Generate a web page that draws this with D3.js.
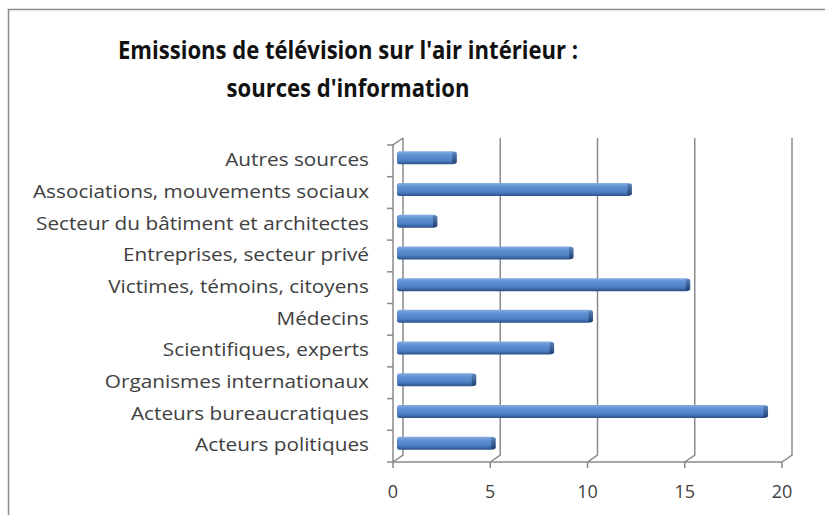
<!DOCTYPE html>
<html>
<head>
<meta charset="utf-8">
<script src="https://cdn.jsdelivr.net/npm/d3@7"></script>
<style>
  body { margin: 0; background: #fff; }
  svg { display: block; }
  text { font-family: "Open Sans", "Noto Sans", sans-serif; }
</style>
</head>
<body>
<svg id="chart" width="825" height="515"></svg>
<script>
// data, top to bottom as drawn
const categories = [
  "Autres sources",
  "Associations, mouvements sociaux",
  "Secteur du bâtiment et architectes",
  "Entreprises, secteur privé",
  "Victimes, témoins, citoyens",
  "Médecins",
  "Scientifiques, experts",
  "Organismes internationaux",
  "Acteurs bureaucratiques",
  "Acteurs politiques"
];
const values = [3, 12, 2, 9, 15, 10, 8, 4, 19, 5];
const xTicks = [0, 5, 10, 15, 20];
const titleLines = ["Emissions de télévision sur l'air intérieur :", "sources d'information"];

const svg = d3.select("#chart");

// stretch a group of texts so the widest one gets the wanted width
function fitWidth(sel, widest) {
  let max = 0;
  sel.each(function () { max = Math.max(max, this.getComputedTextLength()); });
  const k = widest / max;
  sel.each(function () {
    d3.select(this)
      .attr("textLength", this.getComputedTextLength() * k)
      .attr("lengthAdjust", "spacingAndGlyphs");
  });
}

// outer frame
svg.append("path")
  .attr("d", "M8.5,515 L8.5,9.5 L825,9.5")
  .attr("fill", "none")
  .attr("stroke", "#8c8c8c")
  .attr("stroke-width", 1.5);

const x = d3.scaleLinear().domain([0, 20]).range([393, 782]);
const y = d3.scaleBand().domain(categories).range([145, 462]);
const dx = 10, dy = -7; // depth of the 3d box
const grid = "#8a8a8a";

// back wall gridlines + floor diagonals
const g = svg.append("g").attr("fill", "none").attr("stroke", grid).attr("stroke-width", 1.5);
xTicks.forEach(t => {
  const xf = x(t), xb = x(t) + dx;
  g.append("path")
    .attr("d", `M${xf},${y.range()[1]} L${xb},${y.range()[1] + dy} L${xb},${y.range()[0] + dy}`);
});
// left wall front edge
g.append("path")
  .attr("d", `M${x(0)},${y.range()[1]} L${x(0)},${y.range()[0]} L${x(0) + dx},${y.range()[0] + dy}`);
// floor front edge
g.append("line")
  .attr("x1", x(0)).attr("x2", x(20))
  .attr("y1", y.range()[1]).attr("y2", y.range()[1]);

// ticks on category axis (band edges)
const edges = categories.map(c => y(c)).concat([y.range()[1]]);
g.selectAll(".ytick").data(edges).join("line")
  .attr("x1", x(0) - 6).attr("x2", x(0))
  .attr("y1", d => d).attr("y2", d => d);
// ticks on value axis
g.selectAll(".xtick").data(xTicks).join("line")
  .attr("x1", d => x(d)).attr("x2", d => x(d))
  .attr("y1", y.range()[1]).attr("y2", y.range()[1] + 6);

// bar gradient
const defs = svg.append("defs");
const grad = defs.append("linearGradient").attr("id", "barGrad")
  .attr("x1", 0).attr("y1", 0).attr("x2", 0).attr("y2", 1);
grad.append("stop").attr("offset", "0%").attr("stop-color", "#85acdf");
grad.append("stop").attr("offset", "30%").attr("stop-color", "#5f90d3");
grad.append("stop").attr("offset", "70%").attr("stop-color", "#4d7fc2");
grad.append("stop").attr("offset", "100%").attr("stop-color", "#2a4f86");
const capGrad = defs.append("linearGradient").attr("id", "capGrad")
  .attr("x1", 0).attr("y1", 0).attr("x2", 0).attr("y2", 1);
capGrad.append("stop").attr("offset", "0%").attr("stop-color", "#5d86bf");
capGrad.append("stop").attr("offset", "100%").attr("stop-color", "#1f3f70");

const barH = 13, barDx = 4, barDy = -3;
const bars = svg.append("g").selectAll("g").data(categories).join("g");
bars.append("rect")
  .attr("x", x(0) + barDx)
  .attr("y", d => y(d) + y.bandwidth() / 2 + barDy - barH / 2)
  .attr("width", (d, i) => x(values[i]) - x(0))
  .attr("height", barH)
  .attr("rx", 2.5)
  .attr("fill", "url(#barGrad)");
bars.append("rect")
  .attr("x", (d, i) => x(values[i]) + barDx - 3)
  .attr("y", d => y(d) + y.bandwidth() / 2 + barDy - barH / 2 + 0.5)
  .attr("width", 4.5)
  .attr("height", barH - 1)
  .attr("rx", 2)
  .attr("fill", "url(#capGrad)");

// category labels
const labels = svg.append("g").selectAll("text").data(categories).join("text")
  .attr("x", 369)
  .attr("y", d => y(d) + y.bandwidth() / 2 - 1)
  .attr("dy", "0.35em")
  .attr("text-anchor", "end")
  .attr("font-size", 18)
  .attr("fill", "#404040")
  .text(d => d);
fitWidth(labels, 336);

// value labels
svg.append("g").selectAll("text").data(xTicks).join("text")
  .attr("x", d => x(d))
  .attr("y", 492)
  .attr("dy", "0.35em")
  .attr("text-anchor", "middle")
  .attr("font-size", 18)
  .attr("fill", "#404040")
  .text(d => d);

// title
const title = svg.append("g").selectAll("text").data(titleLines).join("text")
  .attr("x", 348)
  .attr("y", (d, i) => 59 + i * 38)
  .attr("text-anchor", "middle")
  .attr("font-size", 25)
  .attr("font-weight", "bold")
  .attr("fill", "#111")
  .text(d => d);
fitWidth(title, 460);
</script>
</body>
</html>
